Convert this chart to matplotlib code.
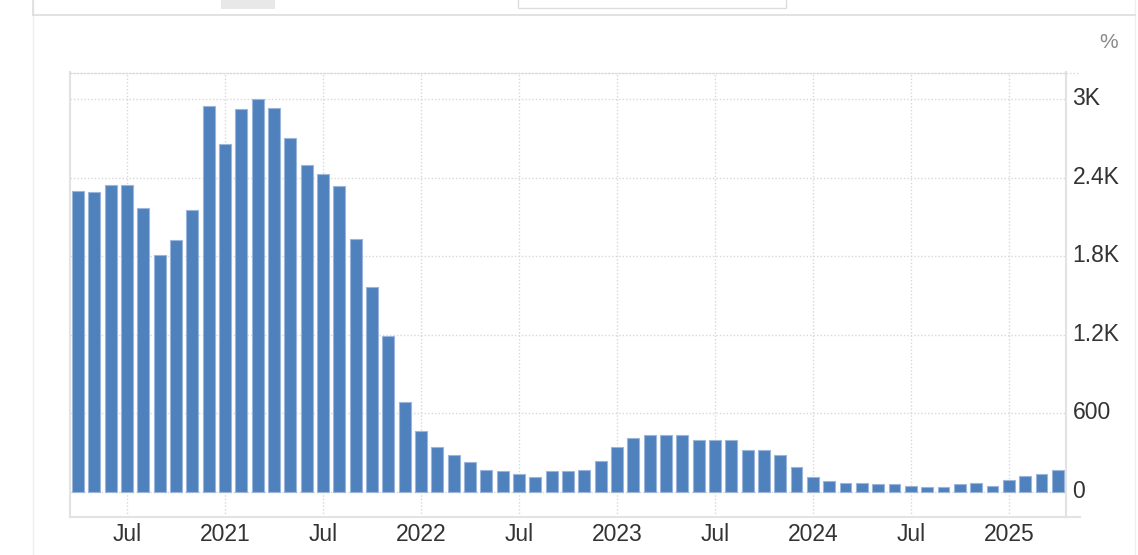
import matplotlib
matplotlib.use("Agg")
import matplotlib.pyplot as plt
from matplotlib.lines import Line2D
from matplotlib.patches import Rectangle
from matplotlib.transforms import ScaledTranslation

plt.rcParams['font.family'] = ['Liberation Sans', 'DejaVu Sans']

# monthly values, Apr 2020 .. Apr 2025 (%)
months = [f"{y}-{m:02d}" for y in range(2020, 2026) for m in range(1, 13)][3:64]
values = [2304, 2294, 2350, 2350, 2167, 1812, 1927, 2157, 2947,
          2661, 2924, 3003, 2937, 2707, 2501, 2429, 2340, 1937, 1570, 1193, 688,
          469, 342, 284, 228, 170, 160, 137, 114, 160, 160, 170, 238,
          342, 410, 433, 433, 433, 398, 398, 398, 319, 319, 284, 192,
          114, 81, 68, 68, 58, 58, 46, 35, 35, 58, 68, 46,
          94, 124, 137, 170]
tick_months = ["2020-07", "2021-01", "2021-07", "2022-01", "2022-07",
               "2023-01", "2023-07", "2024-01", "2024-07", "2025-01"]
tick_labels = ["Jul", "2021", "Jul", "2022", "Jul", "2023", "Jul", "2024", "Jul", "2025"]
y_ticks = [0, 600, 1200, 1800, 2400, 3000]
y_labels = ["0", "600", "1.2K", "1.8K", "2.4K", "3K"]

W, H = 1138, 555
fig = plt.figure(figsize=(W / 100, H / 100), dpi=100)
fig.patch.set_facecolor("white")

# page decorations (container frame and header bits)
fig.add_artist(Line2D([33 / W, 33 / W], [0, 1], color="#eeeeee", lw=1))
fig.add_artist(Line2D([1135 / W, 1135 / W], [0, 1], color="#eeeeee", lw=1))
fig.add_artist(Line2D([33 / W, 1135 / W], [1 - 15.3 / H] * 2, color="#dddddd", lw=1.2))
fig.add_artist(Line2D([33 / W, 33 / W], [1 - 15.3 / H, 1], color="#dddddd", lw=1.2))
fig.add_artist(Rectangle((221 / W, 1 - 8.7 / H), 54 / W, 8.7 / H,
                         color="#e8e8e8", lw=0))
fig.add_artist(Rectangle((518 / W, 1 - 8.3 / H), 268 / W, 10 / H,
                         facecolor="white", edgecolor="#dddddd", lw=1))

ax = fig.add_axes([70 / W, 38 / H, 995.5 / W, 444.5 / H])
x = list(range(len(values)))
ax.bar(x, values, width=0.73, color="#4f81bd", edgecolor="#9cb6db", linewidth=0.8, zorder=3)

ax.set_xlim(-0.49, 60.47)
ax.set_ylim(-191, 3206)

ax.set_xticks([months.index(m) for m in tick_months])
ax.set_xticklabels(tick_labels)
ax.set_yticks(y_ticks)
ax.set_yticklabels(y_labels)
ax.yaxis.tick_right()
ax.tick_params(axis="both", length=0, labelsize=16.5, colors="#333333")
ax.tick_params(axis="x", pad=4.5)
ax.tick_params(axis="y", pad=5)
for lab in ax.get_yticklabels():
    lab.set_transform(lab.get_transform() + ScaledTranslation(0, 3 / 100, fig.dpi_scale_trans))

ax.grid(True, linestyle=(0, (1, 1.5)), color="#d8d8d8", linewidth=1, zorder=0)

for side in ["left", "right", "bottom"]:
    ax.spines[side].set_color("#e3e3e3")
    ax.spines[side].set_linewidth(1.5)
ax.spines["top"].set_color("#d8d8d8")
ax.spines["top"].set_linestyle((0, (1, 1.5)))
ax.spines["top"].set_linewidth(1)

# axis lines reaching past the right spine
fig.add_artist(Line2D([1065.5 / W, 1080 / W], [38 / H] * 2, color="#e3e3e3", lw=1.5))
fig.add_artist(Line2D([1065.5 / W, 1080 / W], [482.5 / H] * 2, color="#d8d8d8", lw=1,
                      linestyle=(0, (1, 1.5))))

fig.text(1109 / W, 1 - 42 / H, "%", color="#8a8a8a", fontsize=15, ha="center", va="center")

fig.savefig("out.png", dpi=100)
